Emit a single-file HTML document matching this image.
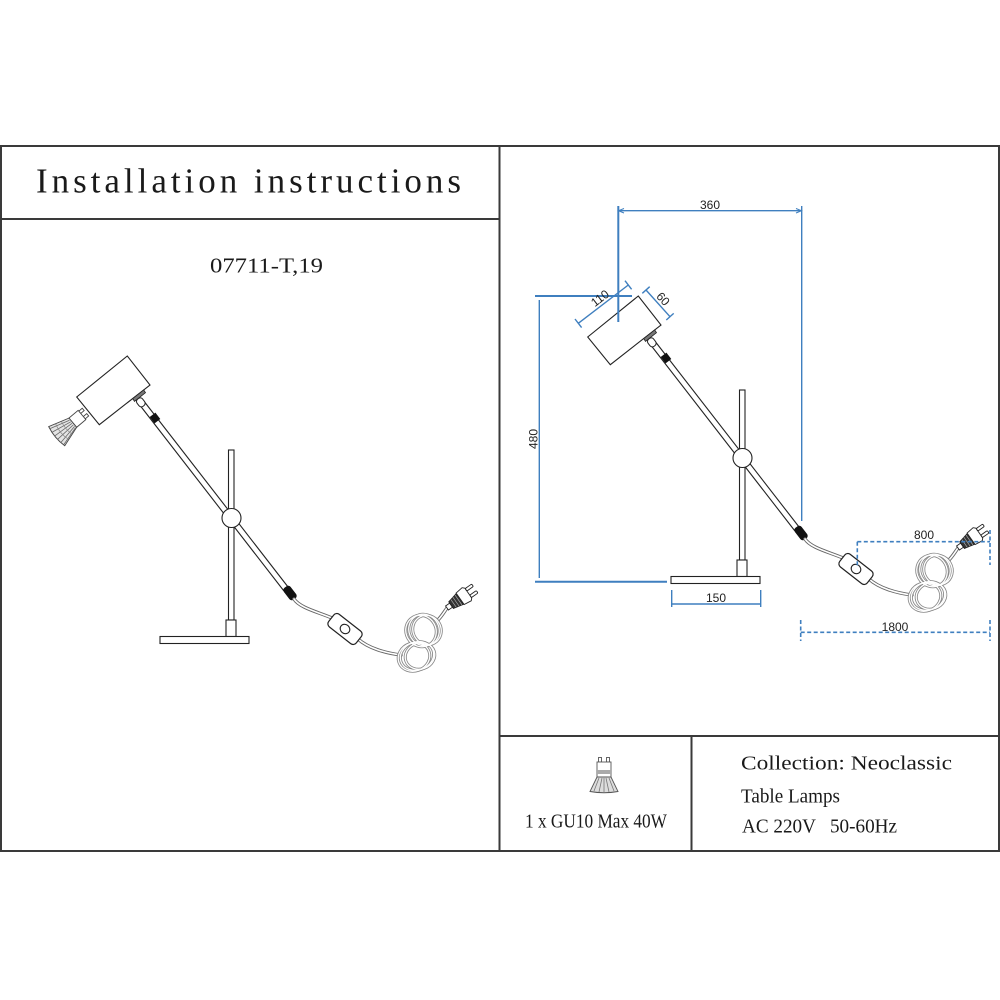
<!DOCTYPE html>
<html>
<head>
<meta charset="utf-8">
<style>
  html,body{margin:0;padding:0;background:#fff;}
  svg{display:block;}
  .t{font-family:"Liberation Serif","Noto Serif CJK SC",serif;fill:#1a1a1a;white-space:pre;}
  .d{font-family:"Liberation Sans",sans-serif;fill:#222;font-size:12px;}
</style>
</head>
<body>
<svg width="1000" height="1000" viewBox="0 0 1000 1000" xmlns="http://www.w3.org/2000/svg">
  <rect x="0" y="0" width="1000" height="1000" fill="#fff"/>

  <!-- Frame -->
  <g stroke="#3a3a3a" stroke-width="2" fill="none">
    <line x1="0" y1="146" x2="1000" y2="146"/>
    <line x1="0" y1="851" x2="1000" y2="851"/>
    <line x1="1" y1="146" x2="1" y2="851"/>
    <line x1="999" y1="146" x2="999" y2="851"/>
    <line x1="499.5" y1="146" x2="499.5" y2="851"/>
    <line x1="0" y1="219" x2="499.5" y2="219"/>
    <line x1="499.5" y1="736" x2="999" y2="736"/>
    <line x1="691.5" y1="736" x2="691.5" y2="851"/>
  </g>

  <!-- Texts -->
  <text class="t" x="36" y="192.5" font-size="35" textLength="425" lengthAdjust="spacing">Installation instructions</text>
  <text class="t" x="210" y="272.5" font-size="21" textLength="113" lengthAdjust="spacingAndGlyphs">07711-T,19</text>
  <text class="t" x="741" y="769.5" font-size="20" textLength="211" lengthAdjust="spacingAndGlyphs">Collection: Neoclassic</text>
  <text class="t" x="741" y="802.5" font-size="20" textLength="99" lengthAdjust="spacingAndGlyphs">Table Lamps</text>
  <text class="t" x="742" y="832.5" font-size="20" textLength="155" lengthAdjust="spacingAndGlyphs" xml:space="preserve">AC 220V   50-60Hz</text>
  <text class="t" x="525" y="827.5" font-size="20" textLength="142" lengthAdjust="spacingAndGlyphs">1 x GU10 Max 40W</text>

  <!-- Bottom bulb icon -->
  <g stroke="#555" stroke-width="0.9" fill="#fff">
    <rect x="598.5" y="757.5" width="3" height="4.5"/>
    <rect x="606.5" y="757.5" width="3" height="4.5"/>
    <rect x="597" y="762" width="14" height="15"/>
    <rect x="597" y="770" width="14" height="4" fill="#aaa" stroke="none"/>
    <path d="M597,777 L611,777 L618,791.5 Q604,794 590,791.5 Z" fill="#ddd"/>
    <path d="M599,778 L594,791 M602,778 L599,792 M604,778 L604,792 M606,778 L609,792 M609,778 L614,791" stroke="#777" stroke-width="0.8"/>
  </g>

  <defs>
    <g id="lamp">
      <!-- pole -->
      <rect x="228.5" y="450" width="5.5" height="170" fill="#fff" stroke="#222" stroke-width="1.1"/>
      <rect x="226" y="620" width="10" height="16.5" fill="#fff" stroke="#222" stroke-width="1.1"/>
      <rect x="160" y="636.5" width="89" height="7" fill="#fff" stroke="#222" stroke-width="1.1"/>
      <!-- rod -->
      <line x1="141" y1="402" x2="286" y2="589" stroke="#222" stroke-width="6.8"/>
      <line x1="141" y1="402" x2="286" y2="589" stroke="#fff" stroke-width="4.6"/>
      <!-- ball -->
      <circle cx="231.5" cy="518" r="9.5" fill="#fff" stroke="#222" stroke-width="1.1"/>
      <!-- head -->
      <polygon points="76.7,397 127.3,356 150,385 99.3,424.7" fill="#fff" stroke="#222" stroke-width="1.1"/>
      <polygon points="143.7,389.9 132.7,398.6 134.5,401.4 145.5,392.7" fill="#777" stroke="#222" stroke-width="0.8"/>
      <!-- joint -->
      <g transform="translate(140.5,402) rotate(52.5)">
        <rect x="-4" y="-3.5" width="9" height="7" rx="3" fill="#fff" stroke="#222" stroke-width="1"/>
      </g>
      <g transform="translate(155,418) rotate(52.5)">
        <rect x="-4" y="-3.6" width="8" height="7.2" fill="#111"/>
      </g>
      <g transform="translate(290,593) rotate(52.5)">
        <rect x="-7.5" y="-4.2" width="15" height="8.4" rx="3" fill="#111"/>
      </g>
      <!-- cable -->
      <g fill="none" stroke-linecap="round">
        <path d="M294,599 C300,608 318,612 332,618" stroke="#666" stroke-width="3.4"/>
        <path d="M294,599 C300,608 318,612 332,618" stroke="#fff" stroke-width="1.6"/>
        <path d="M358,639 C368,648 385,653 401,655" stroke="#666" stroke-width="3.4"/>
        <path d="M358,639 C368,648 385,653 401,655" stroke="#fff" stroke-width="1.6"/>
        <path d="M437,621 C442,616 444,612 447,608" stroke="#666" stroke-width="3.4"/>
        <path d="M437,621 C442,616 444,612 447,608" stroke="#fff" stroke-width="1.6"/>
      </g>
      <!-- switch -->
      <g transform="translate(345,629) rotate(38)">
        <rect x="-17.5" y="-8" width="35" height="16" rx="4" fill="#fff" stroke="#222" stroke-width="1.2"/>
        <ellipse cx="0" cy="0" rx="5" ry="4.5" fill="#fff" stroke="#222" stroke-width="1.1"/>
      </g>
      <!-- coil -->
      <g fill="none">
        <g stroke="#888" stroke-width="3">
          <ellipse cx="421" cy="631" rx="15" ry="16" transform="rotate(-30 421 631)"/>
          <ellipse cx="424" cy="630" rx="15" ry="16" transform="rotate(-30 424 630)"/>
          <ellipse cx="427" cy="630" rx="14" ry="15" transform="rotate(-30 427 630)"/>
          <ellipse cx="414" cy="657" rx="16" ry="14" transform="rotate(-20 414 657)"/>
          <ellipse cx="417" cy="656" rx="17" ry="14" transform="rotate(-20 417 656)"/>
          <ellipse cx="420" cy="656" rx="15" ry="13" transform="rotate(-20 420 656)"/>
        </g>
        <g stroke="#fff" stroke-width="1.3">
          <ellipse cx="421" cy="631" rx="15" ry="16" transform="rotate(-30 421 631)"/>
          <ellipse cx="424" cy="630" rx="15" ry="16" transform="rotate(-30 424 630)"/>
          <ellipse cx="427" cy="630" rx="14" ry="15" transform="rotate(-30 427 630)"/>
          <ellipse cx="414" cy="657" rx="16" ry="14" transform="rotate(-20 414 657)"/>
          <ellipse cx="417" cy="656" rx="17" ry="14" transform="rotate(-20 417 656)"/>
          <ellipse cx="420" cy="656" rx="15" ry="13" transform="rotate(-20 420 656)"/>
        </g>
      </g>
      <!-- plug -->
      <g transform="translate(447,608) rotate(-35)" stroke="#222" stroke-width="0.9">
        <rect x="0" y="-2.5" width="5" height="5" fill="#fff"/>
        <polygon points="5,-4 16,-6.5 16,6.5 5,4" fill="#333"/>
        <path d="M8,-4.5 L8,4.5 M11,-5.5 L11,5.5 M14,-6 L14,6" stroke="#aaa" stroke-width="0.7"/>
        <polygon points="16,-7 24,-8 26,-6 26,6 24,8 16,7" fill="#fff"/>
        <rect x="26" y="-5.5" width="8" height="3" rx="1.2" fill="#fff"/>
        <rect x="26" y="2.5" width="8" height="3" rx="1.2" fill="#fff"/>
      </g>
    </g>
  </defs>

  <!-- Left lamp -->
  <use href="#lamp"/>
  <!-- Left bulb -->
  <g transform="translate(82,415) rotate(50)" stroke="#444" stroke-width="0.9" fill="#fff">
    <rect x="-5" y="-4.5" width="3" height="4.5"/>
    <rect x="2" y="-4.5" width="3" height="4.5"/>
    <rect x="-6" y="0" width="12" height="12"/>
    <path d="M-6,12 L6,12 L12.5,33 Q0,36 -12.5,33 Z" fill="#e4e4e4"/>
    <path d="M-4,13 L-10,33 M-2,13 L-6,34 M0,13 L-1.5,34.5 M2,13 L3,34.5 M4,13 L7.5,34 M5.5,13 L11,33" stroke="#666" stroke-width="0.8"/>
    <path d="M-8,20 Q0,22 8,20 M-10,26 Q0,29 10,26" stroke="#888" stroke-width="0.7" fill="none"/>
  </g>

  <!-- Right lamp -->
  <use href="#lamp" transform="translate(511,-60)"/>

  <!-- Dimensions -->
  <g stroke="#3f7fbf" stroke-width="1.4" fill="none">
    <!-- 360 -->
    <line x1="618.3" y1="210.7" x2="801.7" y2="210.7"/>
    <line x1="618.3" y1="206" x2="618.3" y2="322" stroke-width="2"/>
    <line x1="801.7" y1="206" x2="801.7" y2="521"/>
    <path d="M624,208.5 L618.5,210.7 L624,213 M796,208.5 L801.5,210.7 L796,213" stroke-width="1"/>
    <!-- 480 -->
    <line x1="535" y1="296" x2="632" y2="296" stroke-width="2"/>
    <line x1="539.3" y1="300" x2="539.3" y2="578"/>
    <line x1="535" y1="581.7" x2="667" y2="581.7" stroke-width="2"/>
    <!-- 110 -->
    <line x1="578.3" y1="323.3" x2="628.3" y2="285"/>
    <line x1="575" y1="319" x2="581.6" y2="327.6"/>
    <line x1="625" y1="280.7" x2="631.6" y2="289.3"/>
    <!-- 60 -->
    <line x1="646" y1="290" x2="670" y2="316.7"/>
    <line x1="642.3" y1="293.3" x2="649.7" y2="286.7"/>
    <line x1="666.3" y1="320" x2="673.7" y2="313.4"/>
    <!-- 150 -->
    <line x1="671.7" y1="604" x2="760.7" y2="604"/>
    <line x1="671.7" y1="590" x2="671.7" y2="607"/>
    <line x1="760.7" y1="590" x2="760.7" y2="607"/>
  </g>
  <g stroke="#3f7fbf" stroke-width="1.6" fill="none" stroke-dasharray="4,2.5">
    <!-- 800 -->
    <line x1="857.3" y1="541.7" x2="990" y2="541.7"/>
    <line x1="857.3" y1="541.7" x2="857.3" y2="566"/>
    <line x1="990" y1="530" x2="990" y2="565"/>
    <!-- 1800 -->
    <line x1="800.7" y1="632.3" x2="990" y2="632.3"/>
    <line x1="800.7" y1="620" x2="800.7" y2="641"/>
    <line x1="990" y1="620" x2="990" y2="641"/>
  </g>

  <text class="d" x="710" y="209" text-anchor="middle">360</text>
  <text class="d" x="0" y="0" text-anchor="middle" transform="translate(537.5,439) rotate(-90)">480</text>
  <text class="d" x="0" y="4" text-anchor="middle" transform="translate(600,298.3) rotate(-37.5)">110</text>
  <text class="d" x="0" y="4" text-anchor="middle" transform="translate(663,299) rotate(48)">60</text>
  <text class="d" x="716" y="602" text-anchor="middle">150</text>
  <text class="d" x="924" y="539" text-anchor="middle">800</text>
  <text class="d" x="895" y="631" text-anchor="middle">1800</text>
</svg>
</body>
</html>
